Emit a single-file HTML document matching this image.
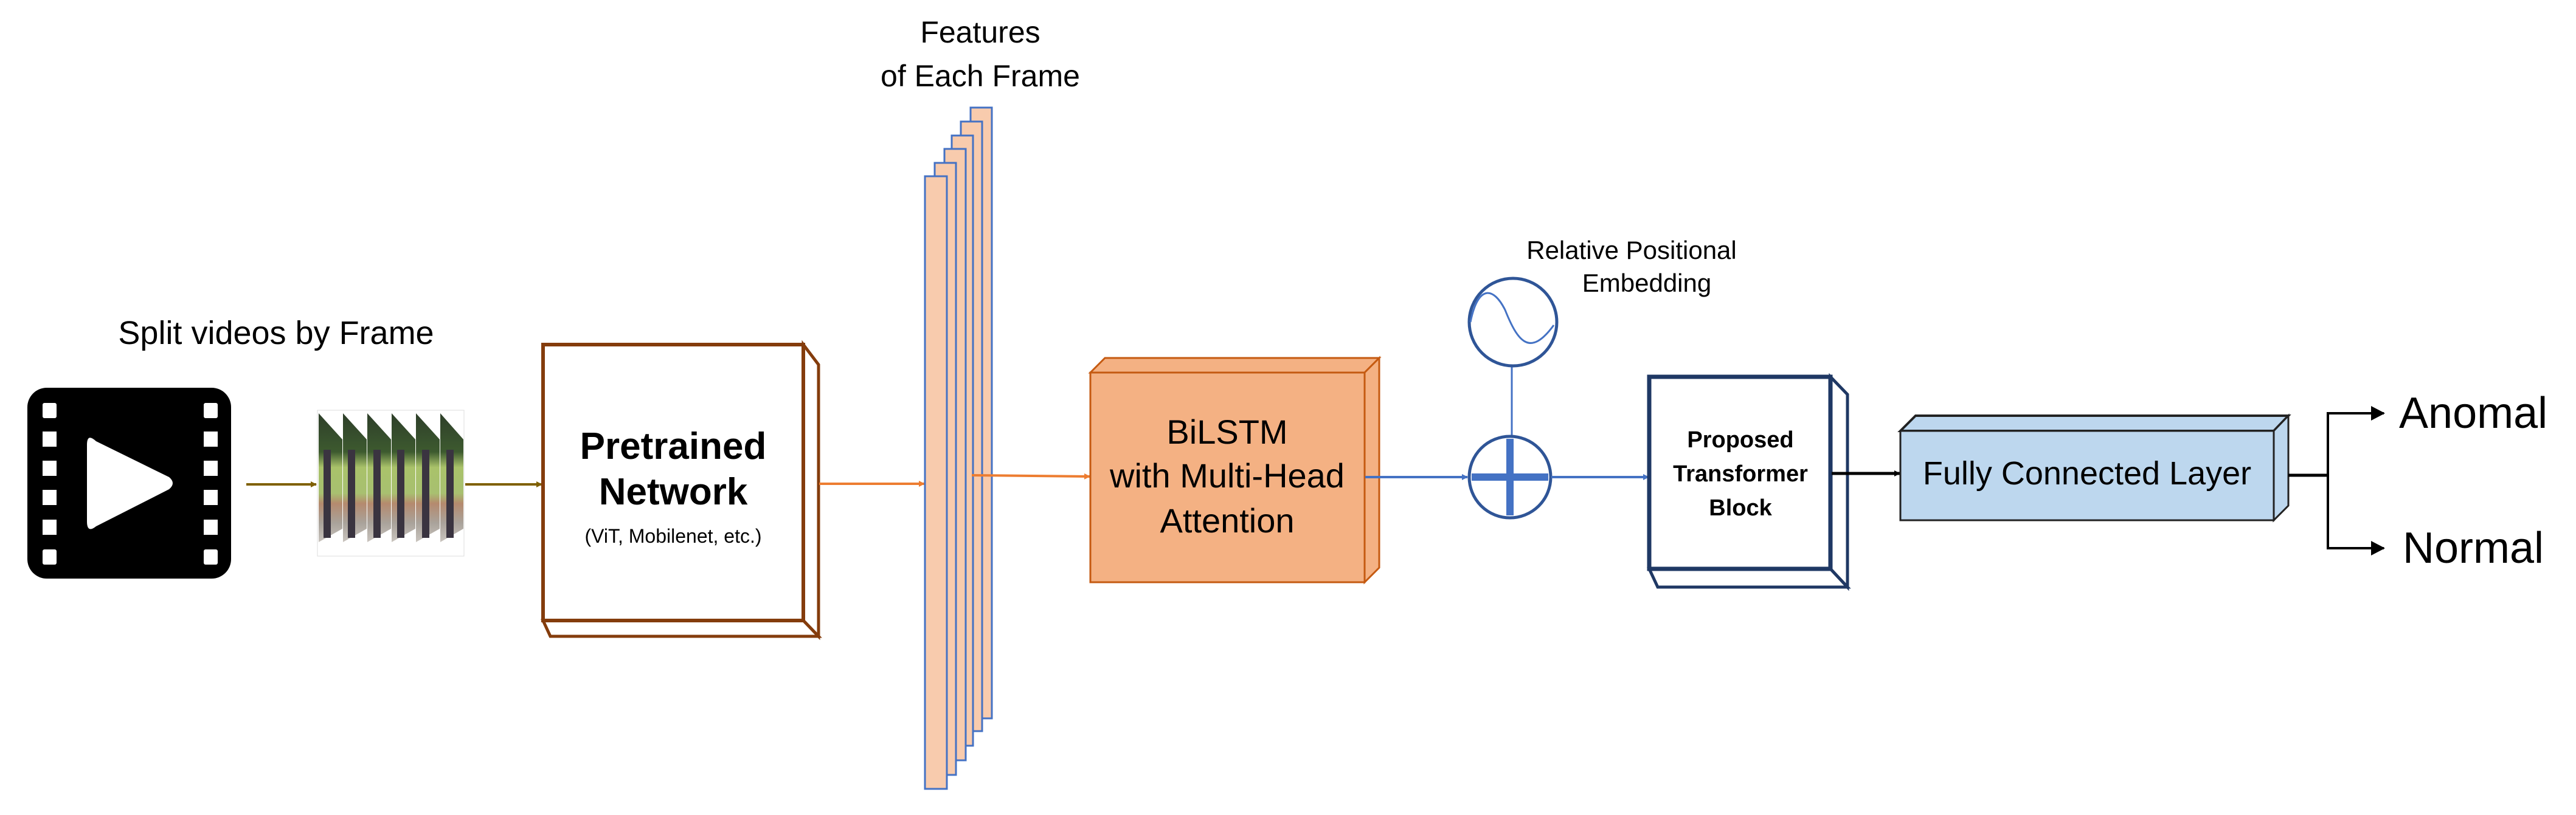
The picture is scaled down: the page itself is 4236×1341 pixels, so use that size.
<!DOCTYPE html>
<html><head><meta charset="utf-8"><style>html,body{margin:0;padding:0;background:#fff}svg{display:block}</style></head>
<body>
<svg width="4236" height="1341" viewBox="0 0 4236 1341" xmlns="http://www.w3.org/2000/svg" font-family="'Liberation Sans', sans-serif">
<defs>
<marker id="ab" markerWidth="10" markerHeight="10" refX="9" refY="5" orient="auto" markerUnits="userSpaceOnUse" viewBox="0 0 10 10"><path d="M0,0 L10,5 L0,10 z" fill="#7F6000"/></marker>
<marker id="ao" markerWidth="10" markerHeight="10" refX="9" refY="5" orient="auto" viewBox="0 0 10 10" markerUnits="userSpaceOnUse"><path d="M0,0 L10,5 L0,10 z" fill="#ED7D31"/></marker>
<marker id="abl" markerWidth="10" markerHeight="10" refX="9" refY="5" orient="auto" viewBox="0 0 10 10" markerUnits="userSpaceOnUse"><path d="M0,0 L10,5 L0,10 z" fill="#4472C4"/></marker>
<marker id="ak" markerWidth="10" markerHeight="10" refX="9" refY="5" orient="auto" viewBox="0 0 10 10" markerUnits="userSpaceOnUse"><path d="M0,0 L10,5 L0,10 z" fill="#000"/></marker>
<linearGradient id="fr" x1="0" y1="0" x2="0" y2="1">
<stop offset="0" stop-color="#2e3f2a"/><stop offset="0.3" stop-color="#3d5a2f"/><stop offset="0.42" stop-color="#a9c26a"/><stop offset="0.62" stop-color="#a8c070"/><stop offset="0.7" stop-color="#b58a6e"/><stop offset="0.85" stop-color="#a9a29a"/><stop offset="1" stop-color="#c9c4be"/>
</linearGradient>
</defs>

<text x="454" y="566" font-size="54" text-anchor="middle" fill="#000">Split videos by Frame</text>

<rect x="45" y="638" width="335" height="314" rx="32" fill="#000"/>
<g fill="#fff">
<rect x="70" y="663" width="23" height="25" rx="3"/><rect x="70" y="710" width="23" height="25"/><rect x="70" y="758" width="23" height="25"/><rect x="70" y="806" width="23" height="25"/><rect x="70" y="855" width="23" height="25"/><rect x="70" y="904" width="23" height="25" rx="3"/>
<rect x="335" y="663" width="23" height="25" rx="3"/><rect x="335" y="710" width="23" height="25"/><rect x="335" y="758" width="23" height="25"/><rect x="335" y="806" width="23" height="25"/><rect x="335" y="855" width="23" height="25"/><rect x="335" y="904" width="23" height="25" rx="3"/>
<path d="M143,732 Q143,712 158,726 L278,785 Q290,795 278,805 L158,866 Q143,878 143,858 Z"/>
</g>

<line x1="405" y1="797" x2="520" y2="797" stroke="#7F6000" stroke-width="4" marker-end="url(#ab)"/>
<line x1="765" y1="797" x2="891" y2="797" stroke="#7F6000" stroke-width="4" marker-end="url(#ab)"/>

<rect x="522" y="675" width="241" height="240" fill="#fff" stroke="#ddd" stroke-width="1"/>
<g>
<path d="M524,680 L563,723 L563,870 L524,892 Z" fill="url(#fr)"/>
<path d="M564,680 L603,723 L603,870 L564,892 Z" fill="url(#fr)"/>
<path d="M604,680 L643,723 L643,870 L604,892 Z" fill="url(#fr)"/>
<path d="M644,680 L683,723 L683,870 L644,892 Z" fill="url(#fr)"/>
<path d="M684,680 L723,723 L723,870 L684,892 Z" fill="url(#fr)"/>
<path d="M724,680 L762,723 L762,870 L724,892 Z" fill="url(#fr)"/>
<g fill="#3a3440">
<rect x="532" y="740" width="12" height="145"/><rect x="572" y="740" width="12" height="145"/><rect x="614" y="740" width="12" height="145"/><rect x="653" y="740" width="12" height="145"/><rect x="694" y="740" width="12" height="145"/><rect x="734" y="740" width="12" height="145"/>
</g>
</g>

<path d="M1321,567 L1346,600 L1346,1047 L1321,1021 Z" fill="#fff" stroke="#843C0C" stroke-width="5"/>
<path d="M893,1021 L1321,1021 L1346,1047 L905,1047 Z" fill="#fff" stroke="#843C0C" stroke-width="5"/>
<rect x="893" y="567" width="428" height="454" fill="#fff" stroke="#843C0C" stroke-width="6"/>
<text x="1107" y="755" font-size="62" font-weight="bold" text-anchor="middle">Pretrained</text>
<text x="1107" y="830" font-size="62" font-weight="bold" text-anchor="middle">Network</text>
<text x="1107" y="893" font-size="32" text-anchor="middle">(ViT, Mobilenet, etc.)</text>

<line x1="1347" y1="796" x2="1520" y2="796" stroke="#ED7D31" stroke-width="4" marker-end="url(#ao)"/>

<g fill="#F8CBAD" stroke="#4472C4" stroke-width="3">
<rect x="1596" y="177" width="35" height="1005"/>
<rect x="1580" y="200" width="35" height="1003"/>
<rect x="1565" y="223" width="35" height="1004"/>
<rect x="1553" y="245" width="35" height="1006"/>
<rect x="1537" y="268" width="35" height="1007"/>
<rect x="1521" y="290" width="36" height="1008"/>
</g>
<text x="1612" y="70" font-size="50" text-anchor="middle">Features</text>
<text x="1612" y="142" font-size="50" text-anchor="middle">of Each Frame</text>

<line x1="1598" y1="782" x2="1792" y2="784" stroke="#ED7D31" stroke-width="4" marker-end="url(#ao)"/>

<path d="M1793,613 L1817,589 L2268,589 L2244,613 Z" fill="#F4B183" stroke="#C55A11" stroke-width="3"/>
<path d="M2244,613 L2268,589 L2268,934 L2244,958 Z" fill="#F4B183" stroke="#C55A11" stroke-width="3"/>
<rect x="1793" y="613" width="451" height="345" fill="#F4B183" stroke="#C55A11" stroke-width="3"/>
<text x="2018" y="730" font-size="56" text-anchor="middle">BiLSTM</text>
<text x="2018" y="802" font-size="56" text-anchor="middle">with Multi-Head</text>
<text x="2018" y="876" font-size="56" text-anchor="middle">Attention</text>

<line x1="2245" y1="785" x2="2413" y2="785" stroke="#4472C4" stroke-width="4" marker-end="url(#abl)"/>
<line x1="2486" y1="602" x2="2486" y2="717" stroke="#4472C4" stroke-width="3"/>
<circle cx="2488" cy="530" r="72" fill="#fff" stroke="#2F5597" stroke-width="5"/>
<path d="M2418,530 C2430,470 2455,470 2475,510 C2495,560 2515,590 2555,535" fill="none" stroke="#4472C4" stroke-width="3"/>
<circle cx="2483" cy="785" r="67" fill="#fff" stroke="#2F5597" stroke-width="5"/>
<line x1="2420" y1="785" x2="2546" y2="785" stroke="#4472C4" stroke-width="12"/>
<line x1="2483" y1="722" x2="2483" y2="848" stroke="#4472C4" stroke-width="12"/>
<line x1="2551" y1="785" x2="2711" y2="785" stroke="#4472C4" stroke-width="4" marker-end="url(#abl)"/>
<text x="2683" y="426" font-size="42" text-anchor="middle">Relative Positional</text>
<text x="2708" y="480" font-size="42" text-anchor="middle">Embedding</text>

<path d="M3010,620 L3038,649 L3038,966 L3010,936 Z" fill="#fff" stroke="#1F3864" stroke-width="5"/>
<path d="M2712,936 L3010,936 L3038,966 L2726,966 Z" fill="#fff" stroke="#1F3864" stroke-width="5"/>
<rect x="2712" y="620" width="298" height="316" fill="#fff" stroke="#1F3864" stroke-width="7"/>
<text x="2862" y="736" font-size="38" font-weight="bold" text-anchor="middle">Proposed</text>
<text x="2862" y="792" font-size="38" font-weight="bold" text-anchor="middle">Transformer</text>
<text x="2862" y="848" font-size="38" font-weight="bold" text-anchor="middle">Block</text>

<line x1="3012" y1="779" x2="3124" y2="779" stroke="#000" stroke-width="5" marker-end="url(#ak)"/>

<path d="M3125,709 L3150,684 L3763,684 L3739,709 Z" fill="#BDD7EE" stroke="#222" stroke-width="4"/>
<path d="M3739,709 L3763,684 L3763,832 L3739,856 Z" fill="#BDD7EE" stroke="#222" stroke-width="3"/>
<rect x="3125" y="709" width="614" height="147" fill="#BDD7EE" stroke="#222" stroke-width="3"/>
<text x="3432" y="797" font-size="54" text-anchor="middle">Fully Connected Layer</text>

<polyline points="3763,782 3828,782" fill="none" stroke="#000" stroke-width="5"/>
<polyline points="3920,680 3828,680 3828,902 3920,902" fill="none" stroke="#000" stroke-width="4"/>
<path d="M3899,668 L3922,680 L3899,692 Z" fill="#000"/>
<path d="M3899,890 L3922,902 L3899,914 Z" fill="#000"/>
<text x="3945" y="704" font-size="72" fill="#000">Anomal</text>
<text x="3951" y="926" font-size="72" fill="#000">Normal</text>
</svg>
</body></html>
